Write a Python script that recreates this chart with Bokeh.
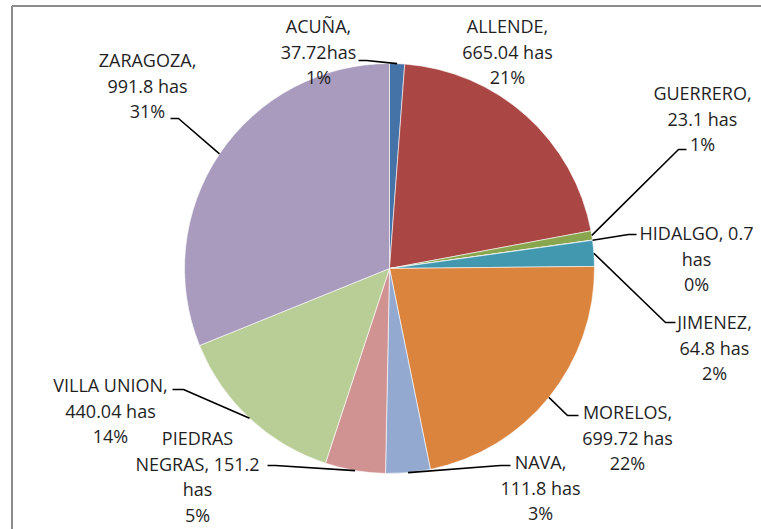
import math
from bokeh.plotting import figure
from bokeh.models import Range1d, ColumnDataSource
from bokeh.core.properties import value
from bokeh.embed import file_html
from bokeh.resources import INLINE

# ---- data ----
names = ["ACUÑA", "ALLENDE", "GUERRERO", "HIDALGO", "JIMENEZ", "MORELOS",
         "NAVA", "PIEDRAS NEGRAS", "VILLA UNION", "ZARAGOZA"]
hectares = [37.72, 665.04, 23.1, 0.7, 64.8, 699.72, 111.8, 151.2, 440.04, 991.8]
pct_labels = ["1%", "21%", "1%", "0%", "2%", "22%", "3%", "5%", "14%", "31%"]
colors = ["#4572A7", "#AA4643", "#89A54E", "#71588F", "#4198AF", "#DB843D",
          "#93A9CF", "#D19392", "#B9CD96", "#A99BBD"]

# ---- layout (screen pixel coordinates) ----
W, H = 761, 529
X0, Y0 = 0, 0
cx, cy, R = 389, 268, 205
FONT = "Open Sans"
FS = 18
LH = 25.6
BASE_OFF = 0.5

# label anchor: centre x, cap-centre y of first line
label_pos = [(318, 25), (507, 25), (702, 92), (696, 232), (714, 321),
             (627, 411), (540, 461), (197, 437), (110, 384), (147, 59)]
# leader: (elbow, end) or None
leaders = [((366, 60), (358, 60)), None, ((678, 149), (686, 149)),
           ((628, 234), (636, 234)), ((665, 322), (675, 322)),
           ((567, 415), (578, 415)), ((500, 465), (510, 465)),
           ((275, 465), (267, 465)), ((183, 389), (172, 389)),
           ((178, 118), (170, 118))]


def label_lines(i):
    n, v, pc = names[i], f"{hectares[i]:g}", pct_labels[i]
    if n == "ACUÑA":
        return [f"{n},", f"{v}has", pc]
    if n == "HIDALGO":
        return [f"{n}, {v}", "has", pc]
    if n == "PIEDRAS NEGRAS":
        a, b = n.split(" ")
        return [a, f"{b}, {v}", "has", pc]
    return [f"{n},", f"{v} has", pc]


total = sum(hectares)
starts, ends, mids = [], [], []
acc = 0.0
for h in hectares:
    f0 = acc / total
    acc += h
    f1 = acc / total
    # clockwise from 12 o'clock; bokeh angles are counter-clockwise on screen
    starts.append(math.pi / 2 - f1 * 2 * math.pi)
    ends.append(math.pi / 2 - f0 * 2 * math.pi)
    mids.append((f0 + f1) / 2)

p = figure(width=W, height=H, output_backend="svg", toolbar_location=None,
           x_range=Range1d(X0, X0 + W), y_range=Range1d(Y0 + H, Y0),
           min_border=0)
p.axis.visible = False
p.grid.visible = False
p.outline_line_color = None
p.background_fill_color = "white"
p.border_fill_color = "white"

# chart-area border (left and top)
p.line(x=[11.5, 11.5], y=[5.5, Y0 + H], line_color="#8C8C8C", line_width=2)
p.line(x=[11.5, X0 + W], y=[5.5, 5.5], line_color="#8C8C8C", line_width=2)

src = ColumnDataSource(dict(start=starts, end=ends, color=colors, name=names))
p.wedge(x=cx, y=cy, radius=R, start_angle="start", end_angle="end",
        direction="anticlock", fill_color="color", line_color="white",
        line_width=0.6, source=src)

# leader lines
xs, ys = [], []
for i, ld in enumerate(leaders):
    if ld is None:
        continue
    a = mids[i] * 2 * math.pi
    sx = cx + R * math.sin(a)
    sy = cy - R * math.cos(a)
    (ex, ey), (tx, ty) = ld
    xs.append([sx, ex, tx])
    ys.append([sy, ey, ty])
p.multi_line(xs=xs, ys=ys, line_color="black", line_width=1.6)

# labels
tx, ty, tt = [], [], []
for i in range(len(names)):
    lx, ly = label_pos[i]
    for k, s in enumerate(label_lines(i)):
        tx.append(lx)
        ty.append(ly + k * LH + BASE_OFF)
        tt.append(s)
p.text(x=tx, y=ty, text=tt, text_font=value(FONT), text_font_size=f"{FS}px",
       text_align="center", text_baseline="alphabetic", text_color="#1F1F1F")

open("out.html", "w").write(file_html(p, INLINE))
